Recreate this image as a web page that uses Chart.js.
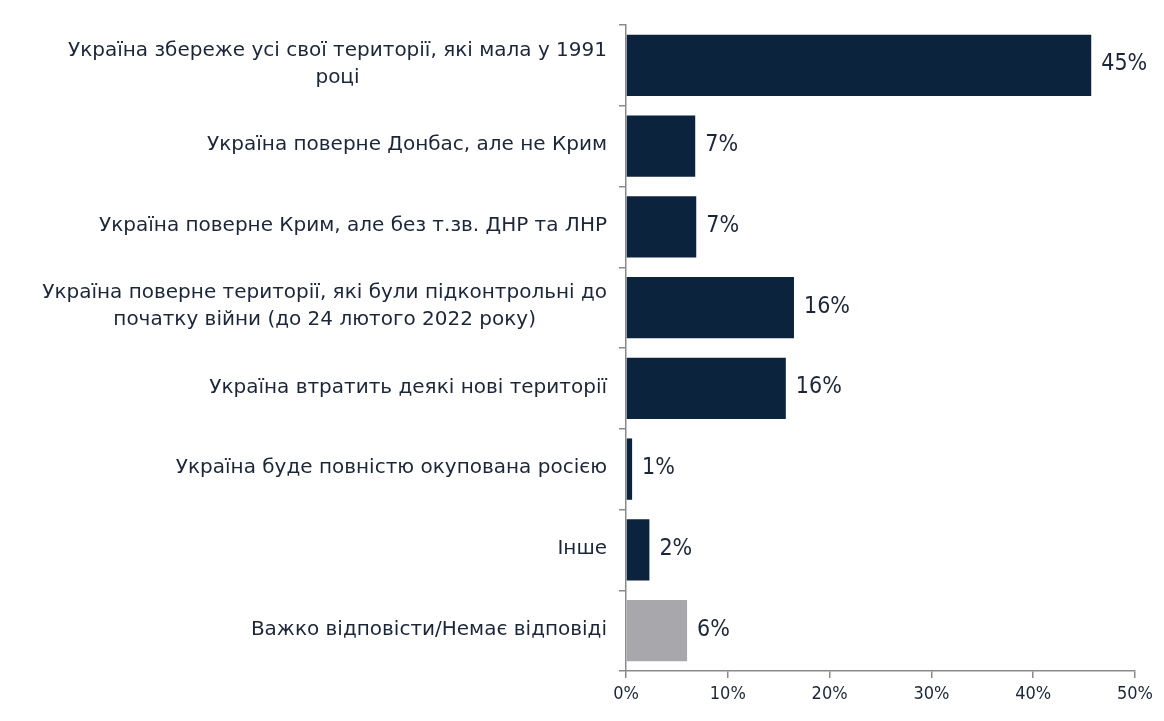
<!DOCTYPE html>
<html>
<head>
<meta charset="utf-8">
<script src="https://cdn.jsdelivr.net/npm/chart.js@4.4.1/dist/chart.umd.min.js"></script>
<style>
html,body{margin:0;padding:0;background:#fff;}
#wrap{width:1164px;height:721px;position:relative;}
</style>
</head>
<body>
<div id="wrap"><canvas id="c" width="1164" height="721"></canvas></div>
<script>
const categories = [
  ["Україна збереже усі свої території, які мала у 1991", "році"],
  "Україна поверне Донбас, але не Крим",
  "Україна поверне Крим, але без т.зв. ДНР та ЛНР",
  ["Україна поверне території, які були підконтрольні до", "початку війни (до 24 лютого 2022 року)"],
  "Україна втратить деякі нові території",
  "Україна буде повністю окупована росією",
  "Інше",
  "Важко відповісти/Немає відповіді"
];
const values = [45.7, 6.8, 6.9, 16.5, 15.7, 0.6, 2.3, 6.0];
const valueLabels = ["45%", "7%", "7%", "16%", "16%", "1%", "2%", "6%"];
const xTicks = [0, 10, 20, 30, 40, 50];

const NAVY = "#0c233d";
const GRAY = "#a8a7ab";
const TEXT = "#1b2638";
const AXIS = "#8a8a8a";

const barColors = values.map((v, i) => i === values.length - 1 ? GRAY : NAVY);

const valueLabelPlugin = {
  id: 'valueLabels',
  afterDatasetsDraw(chart) {
    const ctx = chart.ctx;
    const meta = chart.getDatasetMeta(0);
    ctx.save();
    ctx.font = '23px "Liberation Sans Narrow", "DejaVu Sans Condensed", sans-serif';
    ctx.fillStyle = TEXT;
    ctx.textBaseline = 'middle';
    ctx.textAlign = 'left';
    meta.data.forEach((bar, i) => {
      ctx.fillText(valueLabels[i], bar.x + 10, bar.y - 1);
    });
    ctx.restore();
  }
};

// Category labels: block right-aligned to the axis, lines centred within block
const categoryLabelPlugin = {
  id: 'categoryLabels',
  afterDraw(chart) {
    const ctx = chart.ctx;
    const yScale = chart.scales.y;
    const right = yScale.right - 19;
    const lineH = 27;
    ctx.save();
    ctx.font = '20px "DejaVu Sans", Tahoma, sans-serif';
    ctx.fillStyle = TEXT;
    ctx.textBaseline = 'middle';
    ctx.textAlign = 'center';
    categories.forEach((lab, i) => {
      const lines = Array.isArray(lab) ? lab : [lab];
      const w = Math.max(...lines.map(l => ctx.measureText(l).width));
      const cx = right - w / 2;
      const cy = yScale.getPixelForValue(i) - 1;
      const y0 = cy - (lines.length - 1) * lineH / 2;
      lines.forEach((l, k) => ctx.fillText(l, cx, y0 + k * lineH));
    });
    ctx.restore();
  }
};

new Chart(document.getElementById('c'), {
  type: 'bar',
  data: {
    labels: categories,
    datasets: [{
      data: values,
      backgroundColor: barColors,
      borderWidth: 0,
      barPercentage: 0.76,
      categoryPercentage: 1.0
    }]
  },
  options: {
    indexAxis: 'y',
    responsive: false,
    animation: false,
    devicePixelRatio: 1,
    layout: { padding: { top: 25, right: 29, bottom: 0, left: 0 } },
    plugins: { legend: { display: false }, tooltip: { enabled: false } },
    scales: {
      x: {
        min: 0, max: 50,
        afterBuildTicks(scale) { scale.ticks = xTicks.map(v => ({ value: v })); },
        afterFit(scale) { scale.height = 50; },
        grid: { display: true, drawOnChartArea: false, drawTicks: true, tickLength: 7, color: AXIS, lineWidth: 1.5 },
        border: { display: true, color: AXIS, width: 1.5 },
        ticks: {
          callback: v => v + '%',
          color: TEXT,
          padding: 6,
          font: { family: '"Liberation Sans Narrow", "DejaVu Sans Condensed", sans-serif', size: 18 }
        }
      },
      y: {
        afterFit(scale) { scale.width = 626; },
        grid: { display: true, drawOnChartArea: false, drawTicks: true, tickLength: 7, color: AXIS, lineWidth: 1.5, offset: true },
        border: { display: true, color: AXIS, width: 1.5 },
        ticks: { display: false }
      }
    }
  },
  plugins: [valueLabelPlugin, categoryLabelPlugin]
});
</script>
</body>
</html>
